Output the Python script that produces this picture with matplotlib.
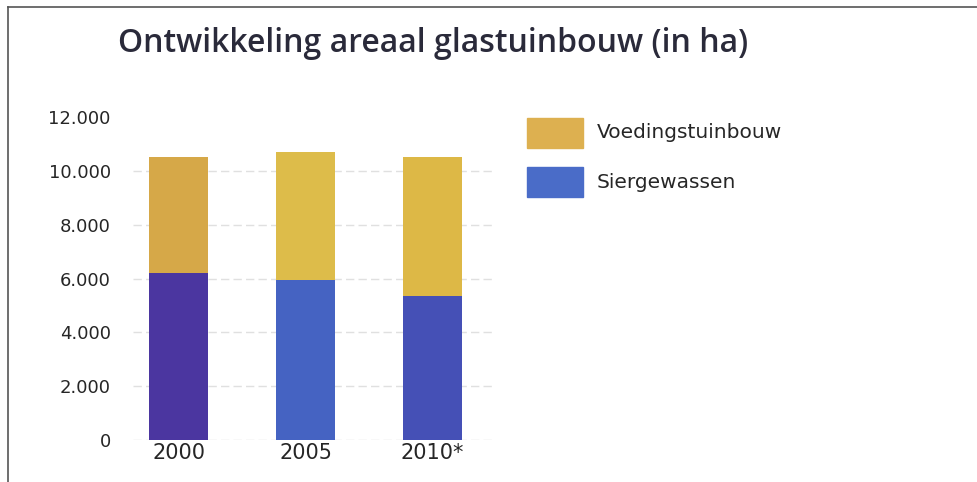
import matplotlib.pyplot as plt
from matplotlib.patches import Rectangle
from matplotlib.lines import Line2D

# data (hectares)
years = ['2000', '2005', '2010*']
siergewassen = [6200, 5950, 5350]
voedingstuinbouw = [4300, 4750, 5150]
yticks = [0, 2000, 4000, 6000, 8000, 10000, 12000]
ytick_labels = ['0', '2.000', '4.000', '6.000', '8.000', '10.000', '12.000']

# colours (scan shows shading, take a middle tone per bar)
sier_colors = ['#4B36A0', '#4563C2', '#4550B6']
voed_colors = ['#D6A848', '#DDBC4A', '#DDB846']

plt.rcParams['font.family'] = ['DejaVu Sans']

fig = plt.figure(figsize=(9.77, 4.82), dpi=100)
ax = fig.add_axes([133 / 977, 1 - 440 / 482, (492 - 133) / 977, (440 - 117) / 482])

x = range(len(years))
ax.bar(x, siergewassen, width=0.46, color=sier_colors, zorder=2)
ax.bar(x, voedingstuinbouw, width=0.46, bottom=siergewassen, color=voed_colors, zorder=2)

ax.set_xlim(-0.36, 2.47)
ax.set_ylim(0, 12000)
ax.set_yticks(yticks)
ax.set_yticklabels(ytick_labels)
ax.set_xticks(list(x))
ax.set_xticklabels(years)
ax.tick_params(axis='y', length=0, pad=16, labelsize=13, labelcolor='#262626')
ax.tick_params(axis='x', length=0, pad=2, labelsize=15, labelcolor='#262626')

# faint gridlines
for yv in yticks[:-1]:
    ax.axhline(yv, color='#e0e0e0', lw=1, ls=(0, (6, 3)), zorder=1)

for s in ax.spines.values():
    s.set_visible(False)

# title
fig.text(118 / 977, 1 - 52 / 482, 'Ontwikkeling areaal glastuinbouw (in ha)',
         family='Open Sans', fontsize=23, fontweight='semibold', color='#2a2a3a',
         va='baseline', ha='left')

# legend drawn by hand
legend_items = [('Voedingstuinbouw', '#DDB050', 118), ('Siergewassen', '#4A6CC8', 167)]
for label, col, ytop in legend_items:
    fig.patches.append(Rectangle((527 / 977, 1 - (ytop + 30) / 482), 56 / 977, 30 / 482,
                                 transform=fig.transFigure, color=col))
    fig.text(597 / 977, 1 - (ytop + 15) / 482, label, fontsize=14.5, color='#262626',
             va='center', ha='left')

# scan frame lines (left and top)
fig.lines.append(Line2D([8 / 977, 8 / 977], [0, 1 - 7 / 482], transform=fig.transFigure,
                        color='#555555', lw=1.2))
fig.lines.append(Line2D([8 / 977, 1], [1 - 7 / 482, 1 - 7 / 482], transform=fig.transFigure,
                        color='#555555', lw=1.2))

fig.savefig('out.png', dpi=100)
